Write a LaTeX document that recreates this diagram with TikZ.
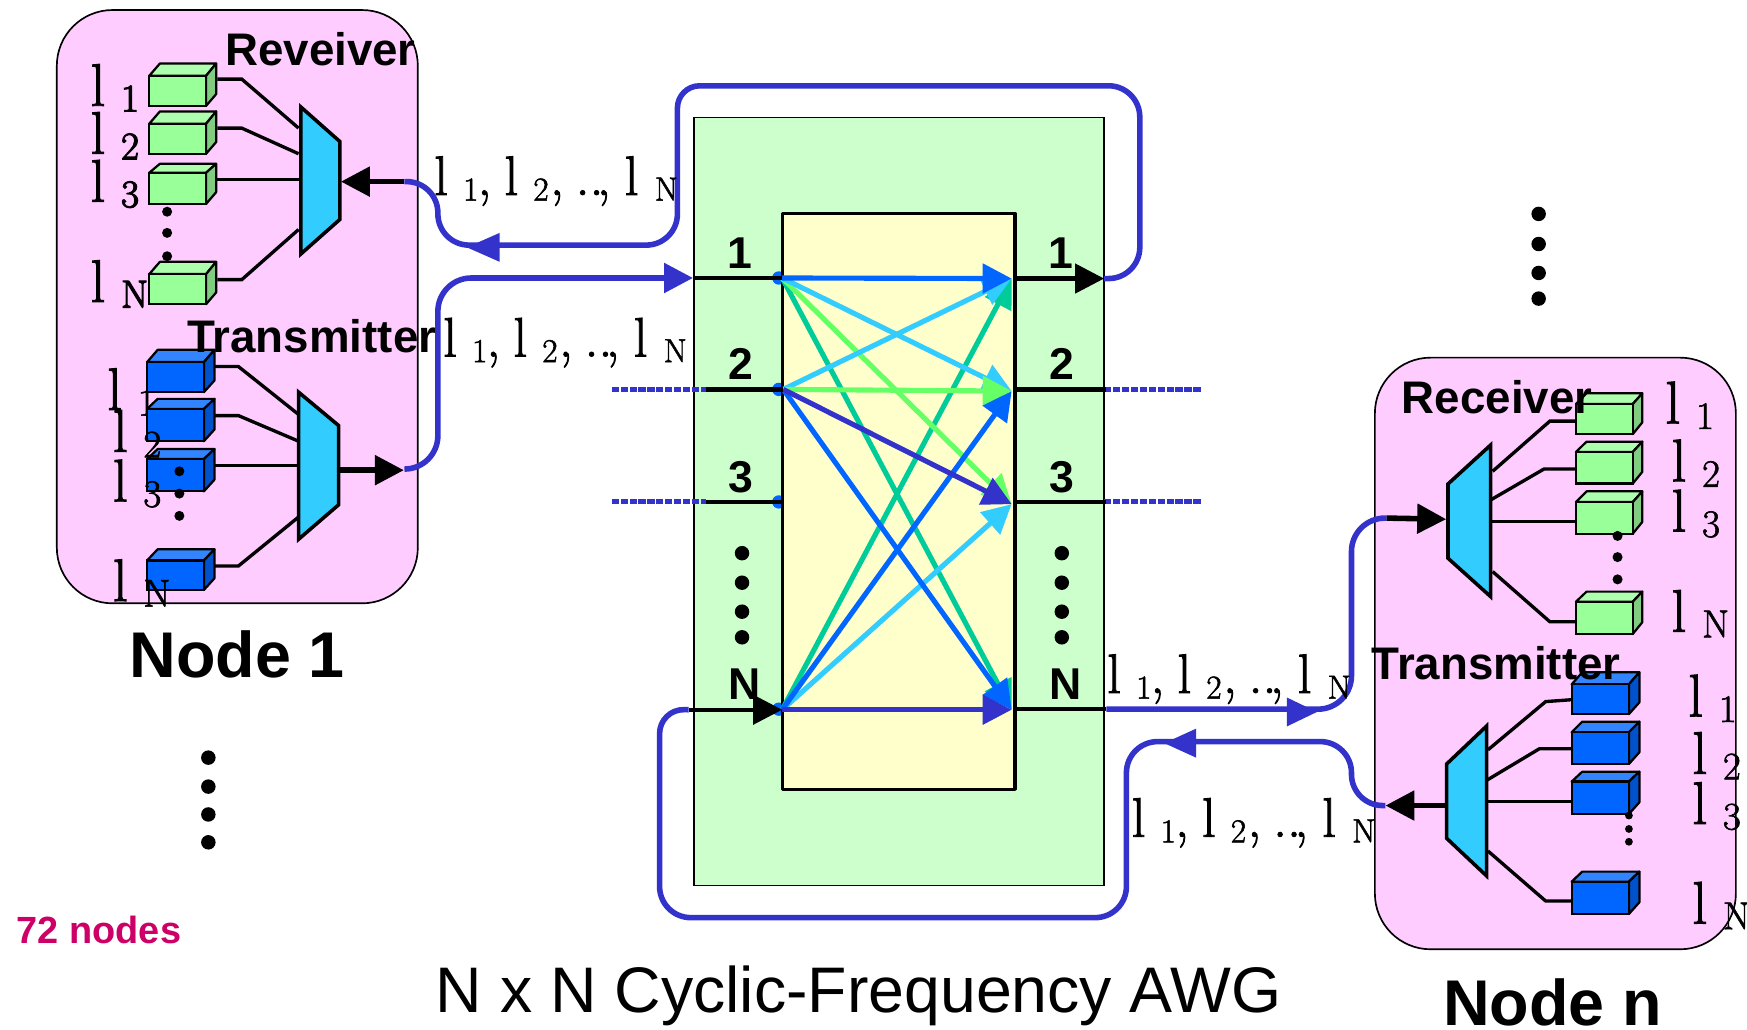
\documentclass[tikz,border=0pt]{standalone}
\usepackage{fontspec}
\usetikzlibrary{arrows.meta}
\newfontfamily\arialf{Liberation Sans}
\newfontfamily\lamf[FakeBold=1.5]{Latin Modern Roman}
\newfontfamily\lambf[FakeBold=3]{Latin Modern Roman}
\definecolor{nodepink}{HTML}{FFCCFF}
\definecolor{awggreen}{HTML}{CCFFCC}
\definecolor{awgyellow}{HTML}{FFFFCC}
\definecolor{wireblue}{HTML}{3333CC}
\definecolor{muxblue}{HTML}{33CCFF}
\definecolor{lgreen}{HTML}{66FF66}
\definecolor{teal2}{HTML}{00CC99}
\definecolor{royal}{HTML}{0066FF}
\definecolor{cubeG}{HTML}{99FF99}
\definecolor{cubeGt}{HTML}{ADFFAD}
\definecolor{cubeGs}{HTML}{80CC80}
\definecolor{cubeBt}{HTML}{3385FF}
\definecolor{cubeBs}{HTML}{0052CC}
\definecolor{pinktxt}{HTML}{CC0066}
\tikzset{
  nodebox/.style={draw=black,line width=1.5pt,fill=nodepink,rounded corners=50pt},
  awgouter/.style={draw=black,line width=1.3pt,fill=awggreen},
  awginner/.style={draw=black,line width=2.8pt,fill=awgyellow,line join=round},
  mux/.style={draw=black,line width=3.2pt,fill=muxblue,line join=miter},
  conn/.style={draw=black,line width=3pt},
  port/.style={draw=black,line width=4pt},
  wire/.style={draw=wireblue,line width=5pt},
  dashwire/.style={draw=wireblue,line width=4.5pt,dash pattern=on 6.5pt off 1.5pt},
  tri/.style={-{Triangle[length=26pt,width=26pt]}},
  ray/.style={line width=4.6pt,tri},
  headfill/.style={fill=wireblue,draw=none},
  dotb/.style={circle,fill=black,inner sep=0pt,minimum size=#1},
  bold40/.style={inner sep=0pt,anchor=base west,font=\arialf\bfseries\fontsize{41}{41}\selectfont},
  digit/.style={inner sep=0pt,anchor=base,font=\arialf\bfseries\fontsize{40}{40}\selectfont},
  lamtxt/.style={inner sep=0pt,anchor=base west},
  title/.style={inner sep=0pt,anchor=base west,font=\arialf\bfseries\fontsize{58}{59}\selectfont}
}
% lambda label rendered as "l" + lowered subscript
\newcommand\lamlab[1]{{\lamf\fontsize{54}{54}\selectfont l}\hspace{14pt}\raisebox{-5pt}{\lamf\fontsize{35}{35}\selectfont #1}}
\newcommand\lamlabb[1]{{\lamf\fontsize{54}{54}\selectfont l}\hspace{14pt}\raisebox{-5pt}{\lambf\fontsize{35}{35}\selectfont #1}}
\newcommand\wsub[1]{\raisebox{-5pt}{\lamf\fontsize{30}{30}\selectfont #1}}
\newcommand\at[2]{\rlap{\hspace{#1pt}#2}}
\newcommand\wlab{\lamf\fontsize{50}{50}\selectfont
  \at{0}{l}\at{26}{\wsub{1}}\at{39}{,}%
  \at{63}{l}\at{89}{\wsub{2}}\at{104}{,}%
  \at{127}{..}\at{146}{,}%
  \at{171}{l}\at{198}{\wsub{N}}\hspace{219pt}}
\newcommand\cubeg[7]{\drawcube{#1}{#2}{#3}{#4}{#5}{#6}{#7}{cubeG}{cubeGt}{cubeGs}}
\newcommand\cubeb[7]{\drawcube{#1}{#2}{#3}{#4}{#5}{#6}{#7}{royal}{cubeBt}{cubeBs}}
\newcommand\drawcube[7]{\def\cubename{#1}\def\cx{#2}\def\cy{#3}\def\cxx{#4}\def\cyy{#5}\def\ctop{#6}\def\crt{#7}\drawcubeb}
\newcommand\drawcubeb[3]{%
  \path[draw=black,line width=2pt,line join=round,fill=#2] (\cx,\cy) -- (\cx+9.5,\ctop) -- (\crt,\ctop) -- (\cxx,\cy) -- cycle;
  \path[draw=black,line width=2pt,line join=round,fill=#3] (\cxx,\cy) -- (\crt,\ctop) -- (\crt,\cyy-10.5) -- (\cxx,\cyy) -- cycle;
  \path[draw=black,line width=2pt,fill=#1] (\cx,\cy) rectangle (\cxx,\cyy);
}
\begin{document}
\begin{tikzpicture}[x=1pt,y=-1pt]
\useasboundingbox (0,0) rectangle (1568,924);
\fill[white] (0,0) rectangle (1568,924);

%--- node containers
\path[nodebox] (51,9) rectangle (375,541.5);
\path[nodebox] (1234,321) rectangle (1558,852);

%--- AWG
\path[awgouter] (623,105.5) rectangle (991,795);
\fill[royal] (699,249.5) circle (6);
\fill[royal] (699,349.5) circle (6);
\fill[royal] (699,450.5) circle (6);
\fill[royal] (699,636.5) circle (6);
\path[awginner] (702,191.5) rectangle (911,708.5);

%--- port coordinates
\coordinate (L1) at (702,249.5);
\coordinate (L2) at (703,349.5);
\coordinate (L3) at (702,450.5);
\coordinate (LN) at (702,637);
\coordinate (R1) at (908,250);
\coordinate (R2) at (908,351);
\coordinate (R3) at (908,452.5);
\coordinate (RN) at (908,637);

%--- rays
\draw[ray,teal2] (L1) -- (RN);
\draw[ray,teal2] (LN) -- (R1);
\draw[ray,lgreen] (L1) -- (R3);
\draw[ray,muxblue] (L1) -- (R2);
\draw[ray,muxblue] (L2) -- (R1);
\draw[ray,muxblue] (LN) -- (R3);
\draw[ray,lgreen] (L2) -- (R2);
\draw[ray,royal] (LN) -- (R2);
\draw[ray,royal] (L2) -- (RN);
\draw[ray,royal] (L1) -- (R1);
\draw[ray,wireblue] (L2) -- (R3);
\draw[ray,wireblue] (LN) -- (RN);

%--- dashed extensions
\coordinate (d2a) at (549,349.5); \coordinate (d2b) at (634,349.5);
\coordinate (d3a) at (549,450.5); \coordinate (d3b) at (634,450.5);
\coordinate (d2c) at (991,349.5); \coordinate (d2d) at (1078,349.5);
\coordinate (d3c) at (991,450.5); \coordinate (d3d) at (1078,450.5);
\coordinate (d2s) at (911,349.5); \coordinate (d2e) at (993,349.5);
\coordinate (d3s) at (911,450.5); \coordinate (d3e) at (993,450.5);
\draw[dashwire] (d2a) -- (d2b);
\draw[dashwire] (d3a) -- (d3b);
\draw[dashwire] (d2c) -- (d2d);
\draw[dashwire] (d3c) -- (d3d);

%--- port stubs
\coordinate (P1in) at (622,249.5);
\coordinate (P1out) at (991,250);
\coordinate (PNin) at (618,637);
\coordinate (PNout) at (993,636.5);
\coordinate (P1s) at (911,250);
\coordinate (PNs) at (911,636.5);
\draw[port] (P1in) -- (L1);
\draw[port] (d2b) -- (L2);
\draw[port] (d3b) -- (L3);
\draw[port] (d2s) -- (d2e);
\draw[port] (d3s) -- (d3e);
\draw[port] (PNs) -- (PNout);

%--- node 1 muxes and cubes
\coordinate (RxInL) at (306,163);
\coordinate (TxOutL) at (362.5,422);
\coordinate (RxInR) at (1298,466);
\coordinate (TxOutR) at (1243.5,723);
\draw[conn] (195,71) -- (217,71) -- (268,115);
\draw[conn] (195,115) -- (217,115) -- (268,138);
\draw[conn] (195,161) -- (268,161);
\draw[conn] (195,251) -- (217,251) -- (268,206);
\path[mux] (270,96) -- (305,127) -- (305,197) -- (270,228) -- cycle;
\draw[conn] (192,329) -- (214,329) -- (268,372);
\draw[conn] (192,373) -- (214,373) -- (268,396);
\draw[conn] (192,418) -- (268,418);
\draw[conn] (192,508) -- (214,508) -- (268,464);
\path[mux] (268,352) -- (304,382) -- (304,453) -- (268,484) -- cycle;

\cubeg{g1}{134}{68}{185}{95}{57}{194}
\cubeg{g2}{134}{111}{185}{138}{100}{194}
\cubeg{g3}{134}{155}{185}{183}{147}{194}
\cubeg{gn}{134}{246}{185}{273}{235}{194}

\node[lamtxt] (lb1) at (96,368) {\lamlab{1}};
\cubeb{b1}{132}{325}{183}{352}{314}{192.5}
\cubeb{b2}{132}{367}{183}{396}{358}{192.5}
\cubeb{b3}{132}{412}{183}{441}{403}{192.5}
\cubeb{bn}{132}{503}{183}{529.5}{493}{192.5}

%--- node n muxes and cubes
\draw[conn] (1339.7,423) -- (1391,378) -- (1414.5,378);
\draw[conn] (1335.7,450) -- (1385.7,421) -- (1414.5,421);
\draw[conn] (1338.8,468) -- (1414.5,468);
\draw[conn] (1339.7,513) -- (1391,558) -- (1414.5,558);
\path[mux] (1299.6,434.4) -- (1337.9,399.4) -- (1337.9,535.5) -- (1299.6,501) -- cycle;
\draw[conn] (1335.5,673) -- (1387.3,629.7) -- (1410.6,628);
\draw[conn] (1332.4,701.5) -- (1381.7,672) -- (1410.6,672);
\draw[conn] (1335.5,719.5) -- (1410.6,719.5);
\draw[conn] (1335.5,763.8) -- (1387.3,808.7) -- (1410.6,808.7);
\path[mux] (1298.4,685.7) -- (1334.3,651.6) -- (1334.3,786.2) -- (1298.4,752.4) -- cycle;

\cubeg{rg1}{1414.5}{362.6}{1465.5}{389.6}{353}{1474}
\cubeg{rg2}{1414.5}{405.6}{1465.5}{434}{396.4}{1474}
\cubeg{rg3}{1414.5}{450.6}{1465.5}{479}{441}{1474}
\cubeg{rgn}{1414.5}{540}{1465.5}{569}{531}{1474}
\cubeb{rb1}{1410.6}{614.2}{1462}{640.9}{603.4}{1471.4}
\cubeb{rb2}{1410.6}{657.2}{1462}{685.7}{647.7}{1471.4}
\cubeb{rb3}{1410.6}{701.5}{1462}{730.6}{692.6}{1471.4}
\cubeb{rbn}{1410.6}{791.3}{1462}{820.3}{782.3}{1471.4}

%--- blue loop wires
\draw[wire,rounded corners=28pt] (P1out) -- (1023,250) -- (1023,77) [rounded corners=20pt] -- (608,77) [rounded corners=28pt] -- (608,220) -- (393,220) -- (393,163) -- (363,163);
\fill[headfill] (448.5,209) -- (419,222) -- (448.5,235) -- cycle;
\draw[wire,rounded corners=30pt,tri] (363,421) -- (393,421) -- (393,249.5) -- (P1in);
\draw[wire,rounded corners=30pt] (PNout) -- (1213,636.5) -- (1213,465) -- (1244.5,465);
\fill[headfill] (1155,626) -- (1182,639) -- (1155,652) -- cycle;
\draw[wire,rounded corners=28pt] (TxOutR) -- (1213,723) -- (1213,665.6) -- (1011,665.6) -- (1011,823.6) -- (592,823.6) [rounded corners=22pt] -- (592,636.5) -- (PNin);
\fill[headfill] (1073.5,654) -- (1045,667) -- (1073.5,680) -- cycle;

%--- black arrows
\draw[port,tri] (PNin) -- (LN);
\draw[port,tri] (P1s) -- (P1out);
\draw[port,line width=5pt,tri] (363,163) -- (RxInL);
\draw[port,line width=5pt,tri] (304,422) -- (TxOutL);
\draw[port,line width=5pt,tri] (1244.5,465) -- (RxInR);
\draw[port,line width=5pt,tri] (1298,723) -- (TxOutR);

%--- dots
\foreach \i/\x/\y/\s in {a/150/190/9,b/150/209/9,c/150/230/9,
  d/161/423/9,e/161/443/9,f/161/463/9,
  g/1451.8/481/9,h/1451.8/500/9,j/1451.8/520/9,
  k/1462/732/7,l/1462/744/7,m/1462/755.5/7,
  n/666/496.5/13,o/666/523/13,p/666/549/13,q/666/572/13,
  r/953/496.5/13,s/953/523/13,t/953/549/13,u/953/572/13,
  v/1381/192/13,w/1381/219/13,x/1381/245/13,y/1381/268/13,
  z/187/680/13,A/187/706/13,B/187/731/13,C/187/756/13}
  {\node[dotb=\s pt] (dot\i) at (\x,\y) {};}

%--- port numbers
\node[digit] (tl1) at (664,241) {1};
\node[digit] (tl2) at (665,341) {2};
\node[digit] (tl3) at (665,442) {3};
\node[digit] (tlN) at (668.5,628) {N};
\node[digit] (tr1) at (952,241) {1};
\node[digit] (tr2) at (953,341) {2};
\node[digit] (tr3) at (953,442) {3};
\node[digit] (trN) at (956.5,628) {N};

%--- lambda labels
\node[lamtxt] (la1) at (81,95) {\lamlabb{1}};
\node[lamtxt] (la2) at (81,138) {\lamlabb{2}};
\node[lamtxt] (la3) at (81,181) {\lamlabb{3}};
\node[lamtxt] (laN) at (81,271) {\lamlabb{N}};
\node[lamtxt] (lb2) at (101,405.5) {\lamlab{2}};
\node[lamtxt] (lb3) at (101,450) {\lamlab{3}};
\node[lamtxt] (lbN) at (101,539.5) {\lamlab{N}};
\node[lamtxt] (lc1) at (1494.5,380) {\lamlab{1}};
\node[lamtxt] (lc2) at (1500,432) {\lamlab{2}};
\node[lamtxt] (lc3) at (1500,477) {\lamlab{3}};
\node[lamtxt] (lcN) at (1500,567) {\lamlab{N}};
\node[lamtxt] (ld1) at (1515,643) {\lamlab{1}};
\node[lamtxt] (ld2) at (1518.7,694.5) {\lamlab{2}};
\node[lamtxt] (ld3) at (1518.7,739.5) {\lamlab{3}};
\node[lamtxt] (ldN) at (1518.7,829) {\lamlab{N}};
\node[lamtxt] (wl1) at (389,175) {\wlab};
\node[lamtxt] (wl2) at (397,320) {\wlab};
\node[lamtxt] (wl3) at (993,622) {\wlab};
\node[lamtxt] (wl4) at (1015,751) {\wlab};

%--- titles
\node[bold40] (trx1) at (202,59) {Reveiver};
\node[bold40] (ttx1) at (168,316) {Transmitter};
\node[bold40] (trxn) at (1258,371) {Receiver};
\node[bold40] (ttxn) at (1231,610) {Transmitter};
\node[title] (node1) at (116,608) {Node 1};
\node[title] (noden) at (1295,920) {Node n};
\node[inner sep=0pt,anchor=base west,font=\arialf\fontsize{57.8}{58}\selectfont] (awg) at (391,909) {N x N Cyclic-Frequency AWG};
\node[inner sep=0pt,anchor=base west,text=pinktxt,font=\arialf\bfseries\fontsize{34}{34}\selectfont] (count) at (15,847) {72 nodes};
\end{tikzpicture}
\end{document}
